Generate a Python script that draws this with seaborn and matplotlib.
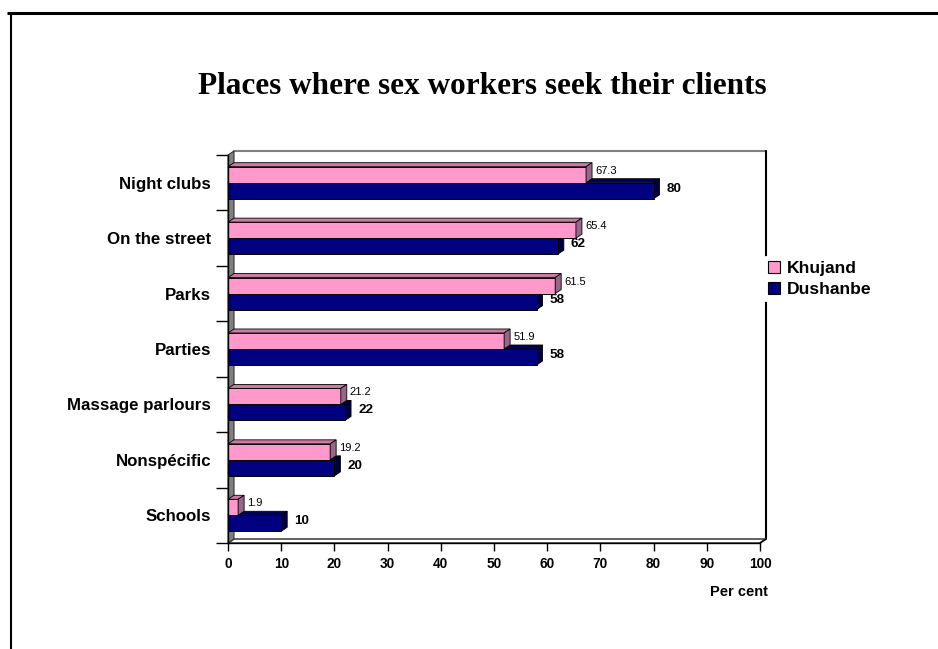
import numpy as np
import pandas as pd
import matplotlib
matplotlib.use("Agg")
import matplotlib.pyplot as plt
from matplotlib.patches import Polygon, Patch
from matplotlib.lines import Line2D
import seaborn as sns

# ---------------- data ----------------
categories = ["Night clubs", "On the street", "Parks", "Parties",
              "Massage parlours", "Nonspécific", "Schools"]
khujand = [67.3, 65.4, 61.5, 51.9, 21.2, 19.2, 1.9]
dushanbe = [80, 62, 58, 58, 22, 20, 10]
series = ["Khujand", "Dushanbe"]
x_ticks = list(range(0, 101, 10))
title = "Places where sex workers seek their clients"
x_label = "Per cent"

sns.set_style("white")
plt.rcParams["font.family"] = ["Liberation Sans", "DejaVu Sans"]
for k in ["text.color", "xtick.color", "ytick.color", "axes.labelcolor"]:
    plt.rcParams[k] = "black"

df = pd.DataFrame({
    "Category": categories * 2,
    "City": [series[0]] * len(categories) + [series[1]] * len(categories),
    "Value": khujand + dushanbe,
})

W, H = 938, 649
fig = plt.figure(figsize=(W / 100, H / 100), dpi=100)
ax = fig.add_axes([228 / W, 1 - 543 / H, 532 / W, 388 / H])

PINK, NAVY = "#FF99CC", "#000080"
sns.barplot(data=df, x="Value", y="Category", hue="City", hue_order=series,
            palette=[PINK, NAVY], orient="h", width=0.578, saturation=1,
            edgecolor="black", linewidth=0.7, legend=False, ax=ax)

ax.set_xlim(0, 100)
ax.set_ylim(len(categories) - 0.5, -0.5)
ax.set_xlabel("")
ax.set_ylabel("")

# depth of the pseudo-3D effect (in data units)
px_x = 532 / 100.0
px_y = 388 / len(categories)
dx = 6 / px_x
dd = 4 / px_y
ytop, ybot = -0.5, len(categories) - 0.5

# back wall outline
ax.add_line(Line2D([dx, 100 + dx], [ytop - dd, ytop - dd], color="#808080",
                   lw=1.5, clip_on=False, zorder=0.6))
ax.add_line(Line2D([100 + dx, 100 + dx], [ytop - dd, ybot - dd], color="black",
                   lw=1.5, clip_on=False, zorder=0.6))
# floor
ax.add_patch(Polygon([(0, ybot), (100, ybot), (100 + dx, ybot - dd), (dx, ybot - dd)],
                     closed=True, facecolor="white", edgecolor="#555555", lw=1.3,
                     clip_on=False, zorder=0.7))
ax.add_line(Line2D([100, 100 + dx], [ybot, ybot - dd], color="black", lw=1,
                   clip_on=False, zorder=0.8))
# left wall
ax.add_patch(Polygon([(0, ytop), (dx, ytop - dd), (dx, ybot - dd), (0, ybot)],
                     closed=True, facecolor="#808080", edgecolor="#333333", lw=0.8,
                     clip_on=False, zorder=0.9))

faces = {0: ("#CC7AA3", "#99668A"), 1: ("#00005A", "#000040")}
front_z = {0: 4, 1: 3}
face_z = {0: 4.2, 1: 2.5}
for ci, cont in enumerate(ax.containers):
    topc, sidec = faces[ci]
    for p in cont:
        w = p.get_width()
        y0 = p.get_y()
        h = p.get_height()
        p.set_zorder(front_z[ci])
        ax.add_patch(Polygon([(0, y0), (w, y0), (w + dx, y0 - dd), (dx, y0 - dd)],
                             closed=True, facecolor=topc, edgecolor="black", lw=0.6,
                             clip_on=False, zorder=face_z[ci]))
        ax.add_patch(Polygon([(w, y0), (w, y0 + h), (w + dx, y0 + h - dd), (w + dx, y0 - dd)],
                             closed=True, facecolor=sidec, edgecolor="black", lw=0.6,
                             clip_on=False, zorder=face_z[ci]))
        if ci == 0:
            ax.annotate(f"{w:.1f}", xy=(w, y0 + h / 2), xytext=(9, 4),
                        textcoords="offset pixels", ha="left", va="center",
                        fontsize=8, color="black", zorder=6)
        else:
            ax.annotate(f"{w:.0f}", xy=(w, y0 + h / 2), xytext=(13, 2),
                        textcoords="offset pixels", ha="left", va="center",
                        fontsize=9.7, fontweight="bold", color="black", zorder=6)

# spines and ticks
for s in ["top", "right"]:
    ax.spines[s].set_visible(False)
for s in ["left", "bottom"]:
    ax.spines[s].set_color("black")
    ax.spines[s].set_linewidth(1)
    ax.spines[s].set_zorder(5)

ax.set_xticks(x_ticks)
ax.set_xticklabels([str(t) for t in x_ticks], fontweight="bold")
ax.tick_params(axis="x", length=6, width=1, color="black", labelsize=9.8, pad=4,
               bottom=True)
ax.set_yticks(range(len(categories)))
ax.set_yticklabels(categories, fontweight="bold")
ax.set_yticks(np.arange(-0.5, len(categories), 1), minor=True)
ax.tick_params(axis="y", which="major", length=0, pad=12, labelsize=12.2, left=True)
ax.tick_params(axis="y", which="minor", length=9, width=1, color="black", left=True)

fig.text(768 / W, 1 - 592 / H, x_label, ha="right", va="center", fontsize=10.5,
         fontweight="bold")

fig.text(482 / W, 1 - 94.3 / H, title, ha="center", va="baseline",
         fontsize=22.5, fontweight="bold", family=["Liberation Serif", "DejaVu Serif"])

handles = [Patch(facecolor=PINK, edgecolor="black", linewidth=0.8, label=series[0]),
           Patch(facecolor=NAVY, edgecolor="black", linewidth=0.8, label=series[1])]
fig.legend(handles=handles, loc="center left", bbox_to_anchor=(763 / W, 1 - 279 / H),
           frameon=True, facecolor="white", edgecolor="none", framealpha=1,
           prop={"size": 12.6, "weight": "bold"}, handlelength=0.65, handleheight=0.65,
           handletextpad=0.4, labelspacing=0.35, borderpad=0.3, borderaxespad=0)

# outer frame lines
fig.add_artist(Line2D([7 / W, 1], [1 - 12.5 / H] * 2, transform=fig.transFigure,
                      color="black", lw=2.2, solid_capstyle="butt"))
fig.add_artist(Line2D([11 / W] * 2, [1 - 12 / H, 0], transform=fig.transFigure,
                      color="black", lw=1.5, solid_capstyle="butt"))

fig.savefig("out.png", dpi=100)
